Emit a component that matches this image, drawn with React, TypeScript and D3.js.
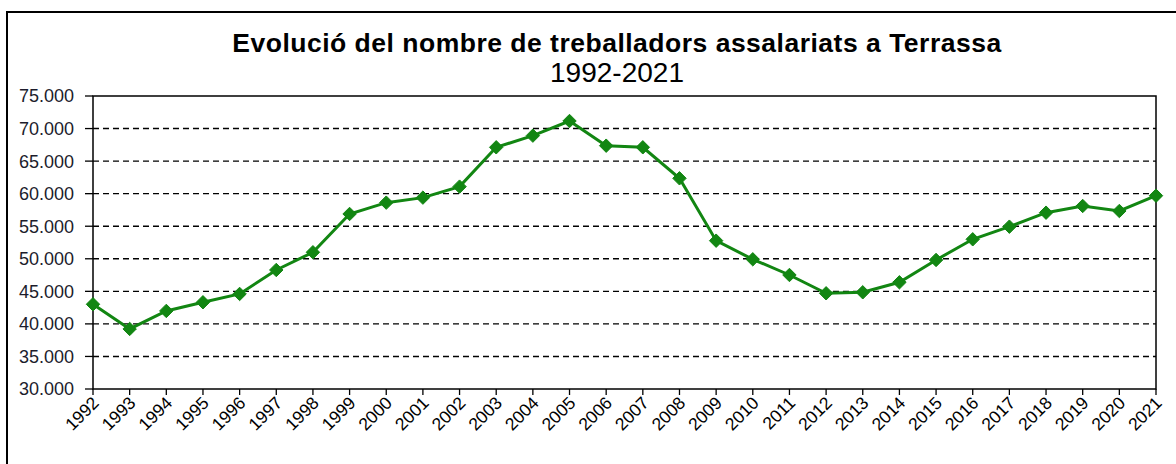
import React from "react";
import * as d3 from "d3";

const WIDTH = 1176;
const HEIGHT = 464;
const PLOT = { left: 93, top: 96, right: 1156, bottom: 389 };

const years = [
  "1992", "1993", "1994", "1995", "1996", "1997", "1998", "1999", "2000", "2001",
  "2002", "2003", "2004", "2005", "2006", "2007", "2008", "2009", "2010", "2011",
  "2012", "2013", "2014", "2015", "2016", "2017", "2018", "2019", "2020", "2021",
];
const workers = [
  43010, 39220, 41990, 43320, 44600, 48280, 51000, 56880, 58620, 59390,
  61080, 67120, 68910, 71160, 67370, 67120, 62360, 52780, 49920, 47510,
  44700, 44850, 46390, 49820, 52990, 54930, 57080, 58110, 57340, 59690,
];
const yTicks = [30000, 35000, 40000, 45000, 50000, 55000, 60000, 65000, 70000, 75000];

const FONT = "'Liberation Sans', Arial, sans-serif";
const GREEN = "#128612";

const fmt = (v: number) => d3.format(",")(v).replace(/,/g, ".");

export default function App() {
  const x = d3.scalePoint<string>().domain(years).range([PLOT.left, PLOT.right]);
  const y = d3.scaleLinear().domain([30000, 75000]).range([PLOT.bottom, PLOT.top]);

  const line = d3
    .line<number>()
    .x((_, i) => x(years[i]) as number)
    .y((d) => y(d));

  const diamond = d3.symbol().type(d3.symbolDiamond2).size(115)();

  return (
    <svg
      width={WIDTH}
      height={HEIGHT}
      style={{ position: "absolute", left: 0, top: 0, background: "#fff" }}
      fontFamily={FONT}
    >
      <rect x={7} y={12} width={WIDTH + 20} height={HEIGHT + 20} fill="#fff" stroke="#000" strokeWidth={2} />

      <text x={617} y={52} textAnchor="middle" fontSize={26.5} fontWeight="bold" letterSpacing={0.5} fill="#000">
        Evolució del nombre de treballadors assalariats a Terrassa
      </text>
      <text x={617} y={82} textAnchor="middle" fontSize={28} fill="#000">
        1992-2021
      </text>

      {/* gridlines */}
      {yTicks.slice(1, -1).map((t) => (
        <line
          key={t}
          x1={PLOT.left}
          x2={PLOT.right}
          y1={y(t)}
          y2={y(t)}
          stroke="#000"
          strokeWidth={1.4}
          strokeDasharray="6 4"
        />
      ))}

      <rect
        x={PLOT.left}
        y={PLOT.top}
        width={PLOT.right - PLOT.left}
        height={PLOT.bottom - PLOT.top}
        fill="none"
        stroke="#000"
        strokeWidth={1.5}
      />

      {/* y axis */}
      {yTicks.map((t) => (
        <g key={t}>
          <line x1={PLOT.left - 8} x2={PLOT.left} y1={y(t)} y2={y(t)} stroke="#000" strokeWidth={1.3} />
          <text x={74} y={y(t)} dy="0.36em" textAnchor="end" fontSize={18} fill="#1c1c2c">
            {fmt(t)}
          </text>
        </g>
      ))}

      {/* x axis */}
      {years.map((yr) => (
        <g key={yr}>
          <line
            x1={x(yr)}
            x2={x(yr)}
            y1={PLOT.bottom}
            y2={PLOT.bottom + 6}
            stroke="#000"
            strokeWidth={1.3}
          />
          <text
            transform={`translate(${(x(yr) as number) + 7},${PLOT.bottom + 15}) rotate(-45)`}
            textAnchor="end"
            fontSize={17.5}
            fill="#000"
          >
            {yr}
          </text>
        </g>
      ))}

      <path d={line(workers) ?? ""} fill="none" stroke={GREEN} strokeWidth={3} />
      {workers.map((v, i) => (
        <path
          key={years[i]}
          d={diamond ?? ""}
          transform={`translate(${x(years[i])},${y(v)})`}
          fill={GREEN}
          stroke={GREEN}
          strokeWidth={1}
        />
      ))}
    </svg>
  );
}
